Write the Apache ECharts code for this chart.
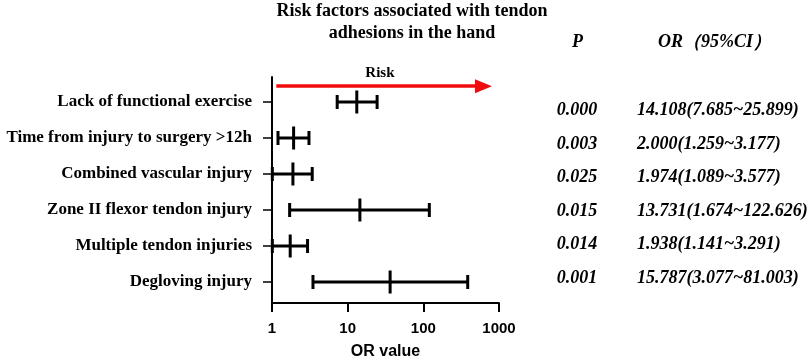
<!DOCTYPE html>
<html>
<head>
<meta charset="utf-8">
<script src="https://cdn.jsdelivr.net/npm/echarts@6/dist/echarts.min.js"></script>
<style>
    html, body { margin: 0; padding: 0; background: #fff; }
    #chart { width: 810px; height: 362px; }
</style>
</head>
<body>
<div id="chart"></div>
<script>
// 危险因素 (从上到下)
const factors = [
    'Lack of functional exercise',
    'Time from injury to surgery >12h',
    'Combined vascular injury',
    'Zone II flexor tendon injury',
    'Multiple tendon injuries',
    'Degloving injury'
]
// 图上读出的 OR 及 95%CI
const orValues = [13.2, 1.93, 1.89, 14.5, 1.74, 36.4]
const ciLow = [7.27, 1.2, 1.01, 1.71, 1.01, 3.48]
const ciHigh = [24.5, 3.08, 3.4, 120, 2.95, 386]
// 右侧表格文字
const pLabels = ['0.000', '0.003', '0.025', '0.015', '0.014', '0.001']
const orLabels = [
    '14.108(7.685~25.899)',
    '2.000(1.259~3.177)',
    '1.974(1.089~3.577)',
    '13.731(1.674~122.626)',
    '1.938(1.141~3.291)',
    '15.787(3.077~81.003)'
]
const xTicks = [1, 10, 100, 1000]

const serif = 'Liberation Serif'
const sans = 'Liberation Sans'
const rows = factors.map((f, i) => factors.length - 1 - i) // 行位置 5..0
const rowName = (v, arr) => arr[factors.length - 1 - Math.round(v)]

const chart = echarts.init(document.getElementById('chart'))

const tableAxis = (labels, offset, align) => ({
    type: 'value',
    position: 'right',
    offset: offset,
    min: -0.75,
    max: 6,
    axisLine: { show: false },
    axisTick: { show: false },
    splitLine: { show: false },
    axisLabel: {
        customValues: rows,
        margin: 0,
        align: align,
        formatter: v => rowName(v, labels),
        fontFamily: serif,
        fontWeight: 'bold',
        fontStyle: 'italic',
        fontSize: 18,
        color: '#000'
    }
})

const option = {
    animation: false,
    backgroundColor: '#fff',
    title: {
        text: 'Risk factors associated with tendon\nadhesions in the hand',
        left: 412,
        top: 0,
        padding: 0,
        textAlign: 'center',
        textStyle: {
            fontFamily: serif,
            fontWeight: 'bold',
            fontSize: 18,
            lineHeight: 22,
            color: '#000'
        }
    },
    grid: { left: 272, right: 311, top: 77, bottom: 59, containLabel: false, outerBoundsMode: 'none' },
    xAxis: {
        type: 'log',
        logBase: 10,
        min: 1,
        max: 1000,
        name: 'OR value',
        nameLocation: 'middle',
        nameGap: 41,
        nameTextStyle: { fontFamily: sans, fontWeight: 'bold', fontSize: 16, color: '#000' },
        axisLine: { onZero: false, lineStyle: { color: '#000', width: 2 } },
        axisTick: { show: true, length: 9, lineStyle: { color: '#000', width: 2 }, customValues: xTicks },
        minorTick: { show: false },
        splitLine: { show: false },
        axisLabel: {
            customValues: xTicks,
            formatter: v => String(v),
            margin: 18,
            fontFamily: sans,
            fontWeight: 'bold',
            fontSize: 15,
            color: '#000'
        }
    },
    yAxis: [
        {
            type: 'value',
            min: -0.583,
            max: 5.694,
            axisLine: { show: true, onZero: false, lineStyle: { color: '#000', width: 2 } },
            axisTick: { show: true, length: 9, customValues: rows, lineStyle: { color: '#000', width: 1.5 } },
            splitLine: { show: false },
            axisLabel: {
                customValues: rows,
                margin: 20,
                formatter: v => rowName(v, factors),
                fontFamily: serif,
                fontWeight: 'bold',
                fontSize: 17,
                color: '#000'
            }
        },
        tableAxis(pLabels, 78, 'center'),
        tableAxis(orLabels, 138, 'left')
    ],
    graphic: [
        {
            type: 'text', left: 572, top: 33,
            style: { text: 'P', font: 'italic bold 18px "Liberation Serif"', fill: '#000' }
        },
        {
            type: 'text', left: 658, top: 33,
            style: { text: 'OR（95%CI）', font: 'italic bold 18px "Liberation Serif"', fill: '#000' }
        }
    ],
    series: [
        {
            // 红色箭头 Risk
            type: 'line',
            data: [],
            markLine: {
                silent: true,
                symbol: ['none', 'triangle'],
                symbolSize: [14, 17],
                lineStyle: { color: '#f00c0c', width: 3.5, type: 'solid' },
                label: {
                    show: true,
                    position: 'middle',
                    formatter: 'Risk',
                    distance: 6,
                    fontFamily: serif,
                    fontWeight: 'bold',
                    fontSize: 15,
                    color: '#000'
                },
                data: [[{ coord: [1.14, 5.44] }, { coord: [624, 5.44] }]]
            }
        },
        {
            type: 'custom',
            data: rows.map((r, i) => [ciLow[i], ciHigh[i], orValues[i], r]),
            encode: { x: [0, 1, 2], y: 3 },
            renderItem: (params, api) => {
                const y = api.value(3)
                const lo = api.coord([api.value(0), y])
                const hi = api.coord([api.value(1), y])
                const mid = api.coord([api.value(2), y])
                const style = { stroke: '#000', lineWidth: 3, lineCap: 'butt' }
                const seg = (x1, y1, x2, y2) => ({ type: 'line', shape: { x1, y1, x2, y2 }, style })
                return {
                    type: 'group',
                    children: [
                        seg(lo[0], lo[1], hi[0], hi[1]),
                        seg(lo[0], lo[1] - 7, lo[0], lo[1] + 7),
                        seg(hi[0], hi[1] - 7, hi[0], hi[1] + 7),
                        seg(mid[0], mid[1] - 11.5, mid[0], mid[1] + 11.5)
                    ]
                }
            }
        }
    ]
}

chart.setOption(option)
window.addEventListener('resize', () => chart.resize())
</script>
</body>
</html>
